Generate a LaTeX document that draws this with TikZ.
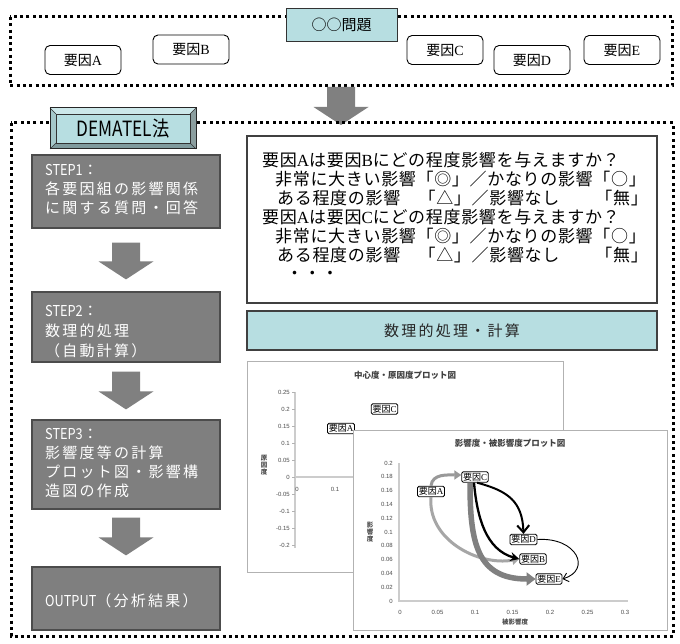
\documentclass[tikz,border=0pt]{standalone}
\usepackage{fontspec}
\usepackage{graphicx}
\setmainfont{Liberation Serif}
\setsansfont{Liberation Sans}
\newfontfamily\jp{Noto Sans CJK JP}
\newfontfamily\jpls{Noto Sans CJK JP}[LetterSpace=15]
\newfontfamily\jpq{Noto Sans CJK JP}[LetterSpace=4]
\usetikzlibrary{arrows.meta,calc}
\definecolor{teal1}{HTML}{B7DEE1}
\definecolor{boxgray}{HTML}{7F7F7F}
\definecolor{arrgray}{HTML}{808080}
\newcommand\yoin[1]{要因{\rmfamily #1}}
\newcommand\narrow[1]{{\jp\scalebox{0.85}[1]{#1}}}
\newcommand\blkarrow[2]{\fill[blk] ($(#1)+(-14,0)$) -- ($(#1)+(14,0)$) -- ($(#2)+(14,18)$) -- ($(#2)+(27.5,18)$) -- (#2) -- ($(#2)+(-27.5,18)$) -- ($(#2)+(-14,18)$) -- cycle;}
\tikzset{
 frame/.style={line width=3pt, dash pattern=on 3pt off 3.3pt},
 titlebox/.style={draw=black!80, line width=1pt, fill=teal1, minimum width=111pt, minimum height=33pt, inner sep=0pt, font=\jp\fontsize{15}{17}\selectfont},
 factor/.style={draw=black, line width=0.9pt, rounded corners=5pt, fill=white, minimum width=76pt, minimum height=29pt, inner sep=0pt, font=\jp\fontsize{14}{16}\selectfont},
 stepbox/.style={draw=black!70, line width=1.2pt, fill=boxgray, minimum width=188pt, inner sep=0pt},
 steptext/.style={anchor=base west, inner sep=0pt, text=white, font=\jpls\fontsize{15}{17}\selectfont},
 qtext/.style={anchor=base west, inner sep=0pt, font=\jpq\fontsize{17}{19}\selectfont},
 chart/.style={draw=black!30, line width=0.8pt, fill=white, inner sep=0pt},
 ctitle/.style={font=\jp\bfseries\fontsize{8.5}{10}\selectfont, text=black!75, inner sep=0pt},
 tick/.style={font=\sffamily\fontsize{6}{7}\selectfont, text=black!70, inner sep=0pt},
 axtitle/.style={font=\jp\bfseries\fontsize{6.5}{7}\selectfont, text=black!70, inner sep=0pt, align=center},
 axis/.style={draw=black!20, line width=1.5pt},
 lab/.style={draw=black, line width=0.8pt, rounded corners=1.5pt, fill=white, inner sep=1.3pt, font=\jp\fontsize{9}{10}\selectfont},
 blk/.style={fill=arrgray},
}
\begin{document}
\begin{tikzpicture}[x=1pt,y=1pt]
\useasboundingbox (0,0) rectangle (680,-644);
\fill[white] (0,0) rectangle (680,-644);
% top frame
\draw[frame] (10,-17) rectangle (672,-86);
\node[titlebox] (prob) at (341.5,-25) {○○問題};
\node[factor] (fA) at (83,-60) {\yoin{A}};
\node[factor] (fB) at (191,-49.5) {\yoin{B}};
\node[factor] (fC) at (445,-50) {\yoin{C}};
\node[factor] (fD) at (532,-60) {\yoin{D}};
\node[factor] (fE) at (622,-50) {\yoin{E}};
% big arrow
\coordinate (ts) at (341,-87);
\coordinate (te) at (341,-125);
\blkarrow{ts}{te}
% second frame
\draw[frame] (11,-123) rectangle (673,-636);
% DEMATEL bevel box
\fill[teal1!70!white] (50,-108) -- (196,-108) -- (190,-114) -- (56,-114) -- cycle;
\fill[teal1!60!black!80] (196,-108) -- (196,-149) -- (190,-143) -- (190,-114) -- cycle;
\fill[teal1!70!black] (196,-149) -- (50,-149) -- (56,-143) -- (190,-143) -- cycle;
\fill[teal1!90!black] (50,-149) -- (50,-108) -- (56,-114) -- (56,-143) -- cycle;
\draw[black!80, line width=0.6pt] (50,-108) -- (56,-114) (196,-108) -- (190,-114) (196,-149) -- (190,-143) (50,-149) -- (56,-143);
\draw[black!85, line width=1pt] (50,-108) rectangle (196,-149);
\node[draw=black!80, line width=0.8pt, fill=teal1, minimum width=134pt, minimum height=29pt, inner sep=0pt, font=\jp\fontsize{21}{23}\selectfont] (dem) at (123,-128.5) {\scalebox{0.82}[1]{DEMATEL法}};
% steps
\node[stepbox, minimum height=73pt] (s1) at (126,-191.5) {};
\node[stepbox, minimum height=70pt] (s2) at (126,-327) {};
\node[stepbox, minimum height=89pt] (s3) at (126,-464.5) {};
\node[stepbox, minimum height=63pt] (s4) at (126,-598.5) {};
\node[steptext] (s1a) at (45,-175.5) {\narrow{STEP1}：};
\node[steptext] (s1b) at (45,-194.5) {各要因組の影響関係};
\node[steptext] (s1c) at (45,-213.5) {に関する質問・回答};
\node[steptext] (s2a) at (45,-316.5) {\narrow{STEP2}：};
\node[steptext] (s2b) at (45,-336.5) {数理的処理};
\node[steptext] (s2c) at (45,-356.5) {（自動計算）};
\node[steptext] (s3a) at (45,-439.5) {\narrow{STEP3}：};
\node[steptext] (s3b) at (45,-458.5) {影響度等の計算};
\node[steptext] (s3c) at (45,-477.5) {プロット図・影響構};
\node[steptext] (s3d) at (45,-496.5) {造図の作成};
\node[steptext] (s4a) at (45,-606.5) {\narrow{OUTPUT}（分析結果）};
\coordinate (a1s) at ($(s1.south)+(0,-14)$);
\coordinate (a1e) at ($(s2.north)+(0,12)$);
\coordinate (a2s) at ($(s2.south)+(0,-9)$);
\coordinate (a2e) at ($(s3.north)+(0,10)$);
\coordinate (a3s) at ($(s3.south)+(0,-8)$);
\coordinate (a3e) at ($(s4.north)+(0,11)$);
\blkarrow{a1s}{a1e}
\blkarrow{a2s}{a2e}
\blkarrow{a3s}{a3e}
% question box
\node[draw=black!75, line width=1.2pt, fill=white, minimum width=410pt, minimum height=167pt, inner sep=0pt] (qbox) at (452,-219.5) {};
\node[qtext] (q1) at (262,-166.3) {要因{\rmfamily A}は要因{\rmfamily B}にどの程度影響を与えますか？};
\node[qtext] (q2) at (275,-185.3) {非常に大きい影響「◎」／かなりの影響「○」};
\node[qtext] (q3) at (277,-204.3) {ある程度の影響　「△」／影響なし　　「無」};
\node[qtext] (q4) at (262,-223.3) {要因{\rmfamily A}は要因{\rmfamily C}にどの程度影響を与えますか？};
\node[qtext] (q5) at (275,-242.3) {非常に大きい影響「◎」／かなりの影響「○」};
\node[qtext] (q6) at (277,-261.3) {ある程度の影響　「△」／影響なし　　「無」};
\node[qtext] (q7) at (286,-279.3) {・・・};
\node[draw=black!75, line width=1.2pt, fill=teal1, minimum width=410pt, minimum height=39pt, inner sep=0pt, text=black!85, font=\jpls\fontsize{15}{17}\selectfont] (bar) at (452,-330.5) {数理的処理・計算};
% chart 1
\node[chart, minimum width=316pt, minimum height=211pt] (ch1) at (405,-466.5) {};
\node[ctitle] (ch1t) at (405,-375) {中心度・原因度プロット図};
\draw[axis] (295,-392) -- (295,-548);
\draw[axis] (295,-477) -- (555,-477);
\foreach \v [count=\i] in {0.25,0.2,0.15,0.1,0.05,0,-0.05,-0.1,-0.15,-0.2} {
  \draw[black!30, line width=0.5pt] (292,{-477+340*\v}) -- (295,{-477+340*\v});
  \node[tick, anchor=east] (cy\i) at (290,{-477+340*\v}) {\v};
}
\node[tick] (cx1) at (297,-489) {0};
\node[tick] (cx2) at (335,-489) {0.1};
\node[axtitle] (ch1y) at (264,-465) {原\\因\\度};
\node[lab] (cC) at (384.5,-409) {\yoin{C}};
\node[lab] (cA) at (341,-428.5) {\yoin{A}};
% chart 2
\node[chart, minimum width=314pt, minimum height=200pt] (ch2) at (510,-530) {};
\node[ctitle] (ch2t) at (510,-443) {影響度・被影響度プロット図};
\draw[axis] (399,-463) -- (399,-601) -- (628,-601);
\foreach \v [count=\i] in {0.2,0.18,0.16,0.14,0.12,0.1,0.08,0.06,0.04,0.02,0} {
  \node[tick, anchor=east] (dy\i) at (393,{-601+690*\v}) {\v};
}
\foreach \v [count=\i] in {0,0.05,0.1,0.15,0.2,0.25,0.3} {
  \node[tick] (dx\i) at ({400+750*\v},-612) {\v};
}
\node[axtitle] (ch2x) at (515,-622) {被影響度};
\node[axtitle] (ch2y) at (370,-532) {影\\響\\度};
\node[lab] (pC) at (475,-477) {\yoin{C}};
\node[lab] (pA) at (431,-491.5) {\yoin{A}};
\node[lab] (pD) at (523.5,-539.5) {\yoin{D}};
\node[lab] (pB) at (533,-559) {\yoin{B}};
\node[lab] (pE) at (549,-579) {\yoin{E}};
\draw[draw=black!35, line width=3pt, -{Triangle[length=7pt,width=9pt]}] (pA.south) to[out=-95,in=190] (pB.west);
\draw[draw=black!40, line width=3pt, -{Triangle[length=7pt,width=9pt]}] (pA.north) to[out=85,in=180] ($(pC.west)+(0,2)$);
\draw[draw=black!50, line width=5.5pt, -{Triangle[length=9pt,width=13pt]}] ($(pC.south)+(-5,0)$) to[out=-90,in=180,looseness=1.3] (pE.west);
\draw[black, line width=2pt, -{Straight Barb[length=7pt,width=12pt]}] ($(pC.south)+(2,0)$) to[out=-15,in=92,looseness=1.2] (pD.north);
\draw[black, line width=2.3pt, -{Stealth[length=9pt,width=9pt]}] ($(pC.south)+(-1,0)$) to[out=-85,in=165] (pB.west);
\draw[black, line width=0.9pt, -{Straight Barb[length=5pt,width=9pt]}] (pD.east) .. controls (577,-537) and (592,-570) .. (pE.east);
\end{tikzpicture}
\end{document}
